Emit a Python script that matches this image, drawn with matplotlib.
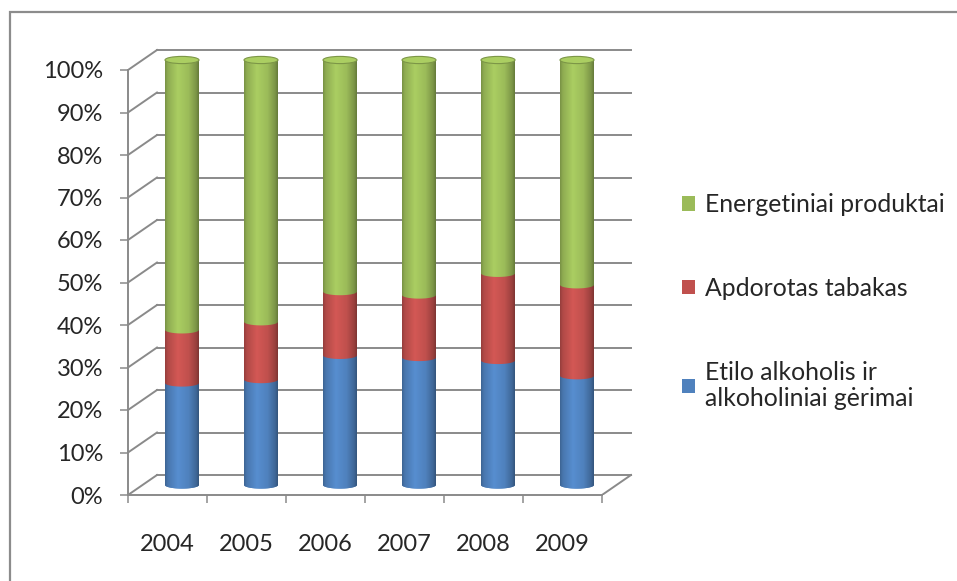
import numpy as np
import matplotlib
matplotlib.use("Agg")
import matplotlib.pyplot as plt
from matplotlib.path import Path
from matplotlib.patches import PathPatch, Patch, Ellipse, Rectangle

# duomenys (nuskaityta nuo paveikslo, %)
years = ["2004", "2005", "2006", "2007", "2008", "2009"]
etilo = [24.0, 24.8, 30.5, 30.0, 29.3, 25.7]
tabakas = [12.5, 13.6, 15.0, 14.7, 20.5, 21.4]
energ = [63.5, 61.6, 54.5, 55.3, 50.2, 52.9]
labels = ["Energetiniai produktai", "Apdorotas tabakas",
          "Etilo alkoholis ir\nalkoholiniai gėrimai"]
colors = ["#9BBB59", "#C0504D", "#4F81BD"]

plt.rcParams["font.family"] = ["Lato", "DejaVu Sans"]
txt_col = "#262626"
grid_col = "#8A8A8A"

fig = plt.figure(figsize=(9.57, 5.81), dpi=100)
W, H = 957, 581
px_x, px_y = 79.0, 4.25          # pixels per category / per percent
x0, y0 = 128, 495                # front axis origin (pixels)
xmax, ymax = 5.9, 106
ax = fig.add_axes([x0 / W, (H - y0) / H, (xmax + 0.5) * px_x / W, ymax * px_y / H])
ax.set_xlim(-0.5, xmax)
ax.set_ylim(0, ymax)

# depth of the 3d box in data units
ddx, ddy = 29 / px_x, 20 / px_y

# back wall + side diagonals
for v in range(0, 101, 10):
    ax.plot([-0.5 + ddx, 5.5 + ddx], [v + ddy, v + ddy], color=grid_col, lw=1.4, zorder=1)
    ax.plot([-0.5, -0.5 + ddx], [v, v + ddy], color=grid_col, lw=1.4, zorder=1)
ax.plot([5.5, 5.5 + ddx], [0, ddy], color=grid_col, lw=1.4, zorder=1)

# cylinders
w, e = 17 / px_x, 3.6 / px_y
tt = np.linspace(0, 1, 80)
shade = np.interp(tt, [0, 0.08, 0.38, 0.7, 0.92, 1], [0.78, 0.92, 1.10, 1.0, 0.8, 0.66])
th = np.linspace(np.pi, 2 * np.pi, 50)
series = [etilo, tabakas, energ]
cols = colors[::-1]
for i in range(len(years)):
    cx = i + ddx / 2
    tot = etilo[i] + tabakas[i] + energ[i]
    b = ddy / 2
    for s, c in zip(series, cols):
        h = s[i] / tot * 100
        t = b + h
        verts = [(cx - w, t)] + list(zip(cx + w * np.cos(th), b + e * np.sin(th))) + [(cx + w, t), (cx - w, t)]
        codes = [Path.MOVETO] + [Path.LINETO] * (len(verts) - 2) + [Path.CLOSEPOLY]
        patch = PathPatch(Path(verts, codes), facecolor=c, edgecolor="none", zorder=3)
        ax.add_patch(patch)
        base = np.array(matplotlib.colors.to_rgb(c))
        img = np.clip(base[None, None, :] * shade[None, :, None], 0, 1)
        im = ax.imshow(img, extent=[cx - w, cx + w, b - e - 0.5, t + 0.5], aspect="auto",
                       interpolation="bilinear", zorder=3.5)
        im.set_clip_path(patch)
        b = t
    base = np.array(matplotlib.colors.to_rgb(cols[-1]))
    ax.add_patch(Ellipse((cx, b), 2 * w, 2 * e, facecolor=np.clip(base * 1.1, 0, 1),
                         edgecolor=np.clip(base * 0.8, 0, 1), lw=0.8, zorder=4))

# axes
for side in ["top", "right"]:
    ax.spines[side].set_visible(False)
for side in ["left", "bottom"]:
    ax.spines[side].set_color(grid_col)
    ax.spines[side].set_linewidth(1.4)
ax.spines["left"].set_bounds(0, 100)
ax.spines["bottom"].set_bounds(-0.5, 5.5)
ax.set_yticks(range(0, 101, 10))
ax.set_yticklabels([f"{v}%" for v in range(0, 101, 10)])
ax.set_xticks(np.arange(-0.5, 5.6, 1))
ax.set_xticklabels([])
ax.set_xticks(range(len(years)), minor=True)
ax.set_xticklabels(years, minor=True)
ax.tick_params(axis="y", length=5.8, width=1.1, color=grid_col, pad=12, labelsize=17, labelcolor=txt_col)
ax.tick_params(axis="x", which="major", length=5.8, width=1.1, color=grid_col)
ax.tick_params(axis="x", which="minor", length=0, pad=28, labelsize=17, labelcolor=txt_col)
ax.patch.set_visible(False)

# legend
handles = [Patch(facecolor=c, edgecolor="none") for c in colors]
leg = fig.legend(handles, labels, loc="upper left", bbox_transform=fig.transFigure,
                 bbox_to_anchor=(670 / W, 1 - 181 / H), frameon=False, fontsize=17.8,
                 handlelength=0.52, handleheight=0.52, handletextpad=0.38,
                 labelspacing=2.45, borderpad=0, labelcolor=txt_col)

# chart frame
fig.add_artist(Rectangle((10 / W, -0.1), 1.2, 1.1 - 12 / H, transform=fig.transFigure,
                         fill=False, edgecolor="#8C8C8C", lw=1.6))

fig.savefig("out.png", dpi=100)
